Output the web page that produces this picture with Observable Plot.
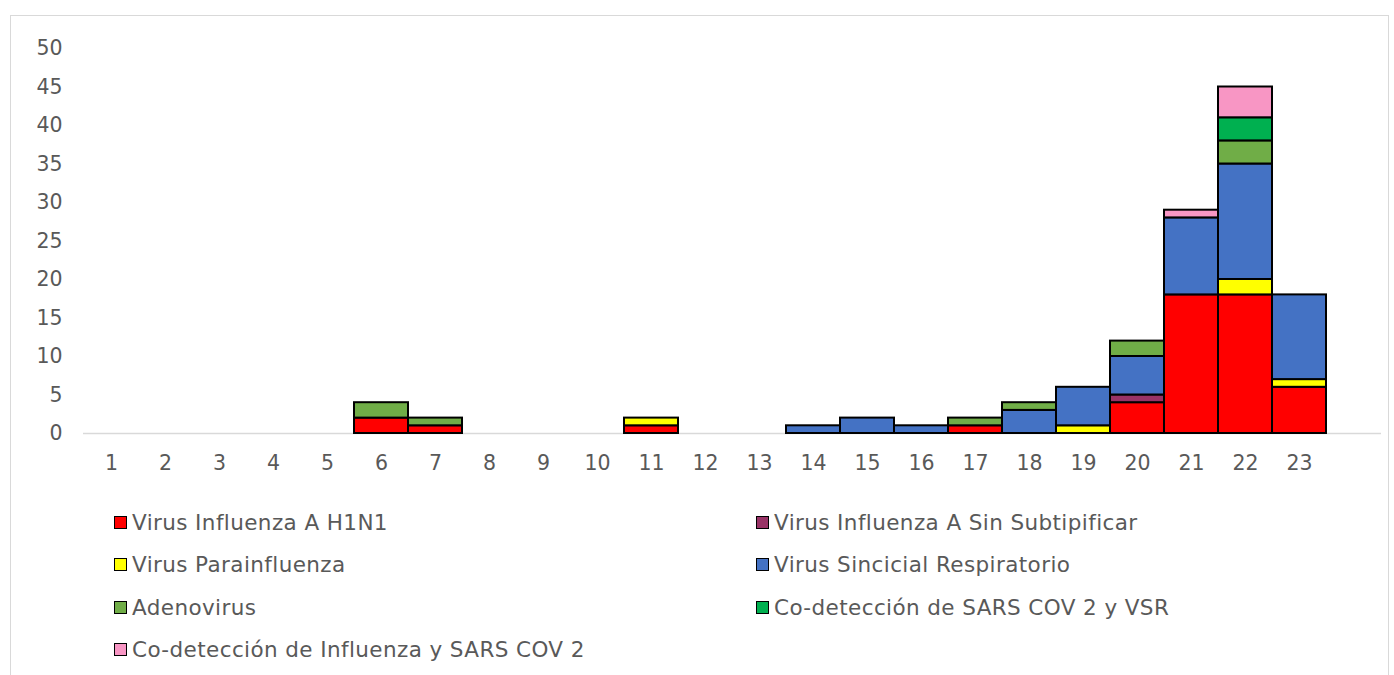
<!DOCTYPE html>
<html><head><meta charset="utf-8">
<script src="https://cdn.jsdelivr.net/npm/d3@7"></script>
<script src="https://cdn.jsdelivr.net/npm/@observablehq/plot@0.6"></script>
<style>
html,body{margin:0;padding:0;background:#fff;}
body{width:1394px;height:675px;overflow:hidden;position:relative;font-family:"DejaVu Sans",sans-serif;}
#frame{position:absolute;left:10px;top:15px;width:1379px;height:700px;border:1px solid #d9d9d9;box-sizing:border-box;}
#chart{position:absolute;left:0;top:0;}
#legend{position:absolute;left:0;top:0;width:1394px;}
.li{position:absolute;display:flex;align-items:center;font-size:21.5px;color:#595959;white-space:nowrap;height:28px;letter-spacing:0.4px;}
.sw{width:11px;height:11px;border:1.5px solid #000;margin-right:5px;flex:none;}
</style></head>
<body>
<div id="frame"></div>
<div id="chart"></div>
<div id="legend"></div>
<script>
const weeks = [1,2,3,4,5,6,7,8,9,10,11,12,13,14,15,16,17,18,19,20,21,22,23];
const seriesNames = [
  "Virus Influenza A H1N1",
  "Virus Influenza A Sin Subtipificar",
  "Virus Parainfluenza",
  "Virus Sincicial Respiratorio",
  "Adenovirus",
  "Co-detección de SARS COV 2 y VSR",
  "Co-detección de Influenza y SARS COV 2"
];
const seriesColors = ["#FF0000","#993366","#FFFF00","#4472C4","#70AD47","#00B050","#F896C4"];
const h1n1      = [0,0,0,0,0,2,1,0,0,0,1,0,0,0,0,0,1,0,0,4,18,18,6];
const sinSub    = [0,0,0,0,0,0,0,0,0,0,0,0,0,0,0,0,0,0,0,1,0,0,0];
const parainf   = [0,0,0,0,0,0,0,0,0,0,1,0,0,0,0,0,0,0,1,0,0,2,1];
const vsr       = [0,0,0,0,0,0,0,0,0,0,0,0,0,1,2,1,0,3,5,5,10,15,11];
const adeno     = [0,0,0,0,0,2,1,0,0,0,0,0,0,0,0,0,1,1,0,2,0,3,0];
const coSarsVsr = [0,0,0,0,0,0,0,0,0,0,0,0,0,0,0,0,0,0,0,0,0,3,0];
const coInfSars = [0,0,0,0,0,0,0,0,0,0,0,0,0,0,0,0,0,0,0,0,1,4,0];
const yTicks = [0,5,10,15,20,25,30,35,40,45,50];

const seriesValues = [h1n1, sinSub, parainf, vsr, adeno, coSarsVsr, coInfSars];
const rows = [];
weeks.forEach((w, i) => {
  seriesValues.forEach((arr, s) => {
    if (arr[i] > 0) rows.push({week: String(w), serie: seriesNames[s], value: arr[i]});
  });
});
const xDomain = weeks.map(String).concat([" "]);

const chart = Plot.plot({
  width: 1394,
  height: 483,
  marginLeft: 83,
  marginRight: 13,
  marginTop: 48,
  marginBottom: 50,
  style: {fontFamily: "'DejaVu Sans', sans-serif", fontSize: "20px", color: "#595959", background: "transparent"},
  x: {domain: xDomain, padding: 0, label: null},
  y: {domain: [0, 50], label: null},
  color: {domain: seriesNames, range: seriesColors},
  marks: [
    Plot.axisY({ticks: yTicks, tickSize: 0, tickPadding: 21, label: null, fill: "#595959", fontSize: 20.5}),
    Plot.axisX({tickSize: 0, tickPadding: 22, label: null, fill: "#595959", fontSize: 20.5}),
    Plot.ruleY([0], {stroke: "#d9d9d9", strokeWidth: 1.5}),
    Plot.barY(rows, {x: "week", y: "value", fill: "serie", stroke: "#000", strokeWidth: 2, order: seriesNames, inset: 0})
  ]
});
document.getElementById("chart").appendChild(chart);

const legend = document.getElementById("legend");
seriesNames.forEach((name, i) => {
  const col = i % 2, row = Math.floor(i / 2);
  const el = document.createElement("div");
  el.className = "li";
  el.style.left = (col === 0 ? 114 : 756) + "px";
  el.style.top = (508 + row * 42.5) + "px";
  const sw = document.createElement("div");
  sw.className = "sw";
  sw.style.background = seriesColors[i];
  el.appendChild(sw);
  el.appendChild(document.createTextNode(name));
  legend.appendChild(el);
});
</script>
</body></html>
